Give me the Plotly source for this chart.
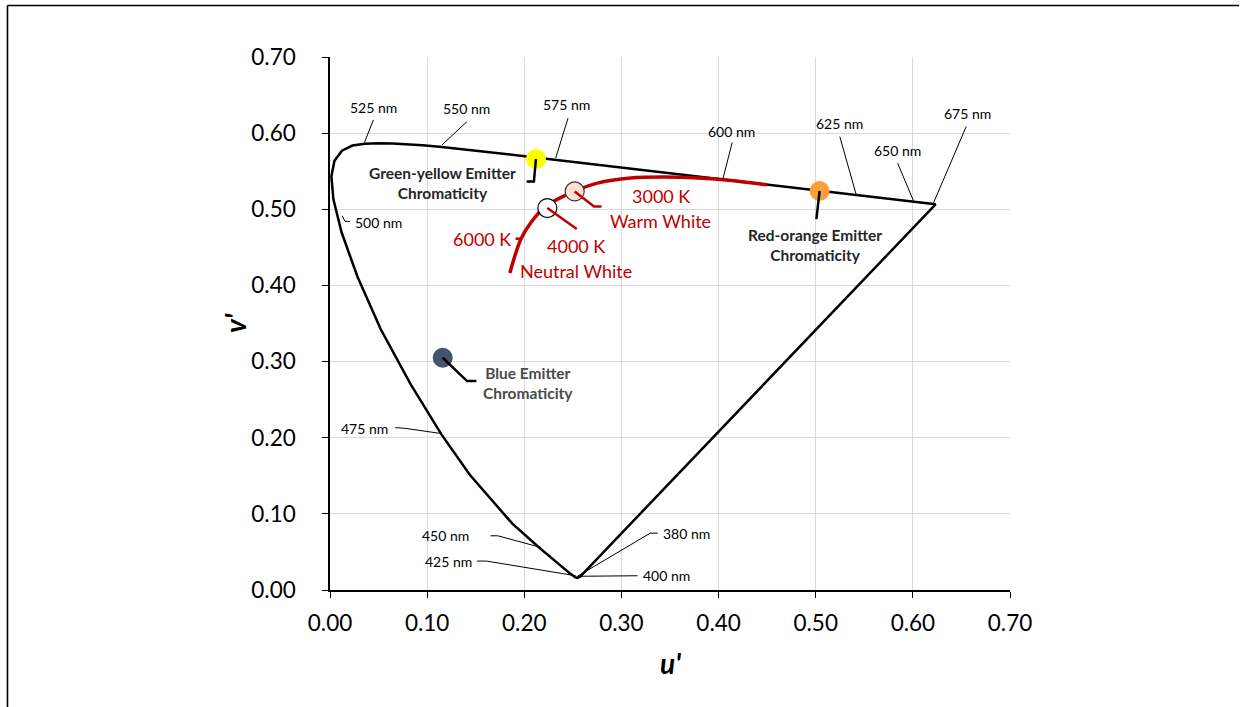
import plotly.graph_objects as go

# CIE 1976 u'v' spectral locus (380 nm -> 700 nm), closed back to 380 nm
locus_nm = [380, 390, 400, 410, 420, 430, 440, 450, 460, 470, 475, 480, 485, 490, 495,
            500, 505, 510, 515, 520, 525, 530, 535, 540, 545, 550, 555, 560, 565, 570,
            575, 580, 585, 590, 595, 600, 605, 610, 615, 620, 625, 630, 640, 650, 660,
            675, 700]
locus_u = [0.2568, 0.2564, 0.2557, 0.2545, 0.2522, 0.2461, 0.2347, 0.2161, 0.1877, 0.1441,
           0.1147, 0.0828, 0.0521, 0.0282, 0.0119, 0.0035, 0.0014, 0.0046, 0.0123, 0.0231,
           0.0360, 0.0501, 0.0643, 0.0792, 0.0953, 0.1127, 0.1319, 0.1531, 0.1766, 0.2026,
           0.2312, 0.2623, 0.2960, 0.3315, 0.3681, 0.4035, 0.4379, 0.4692, 0.4968, 0.5203,
           0.5399, 0.5565, 0.5830, 0.6005, 0.6109, 0.6180, 0.6234]
locus_v = [0.0166, 0.0163, 0.0159, 0.0159, 0.0169, 0.0226, 0.0350, 0.0549, 0.0871, 0.1510,
           0.2044, 0.2708, 0.3427, 0.4117, 0.4698, 0.5131, 0.5432, 0.5638, 0.5770, 0.5837,
           0.5861, 0.5868, 0.5865, 0.5856, 0.5841, 0.5821, 0.5796, 0.5766, 0.5732, 0.5694,
           0.5651, 0.5604, 0.5554, 0.5501, 0.5446, 0.5393, 0.5342, 0.5296, 0.5254, 0.5219,
           0.5190, 0.5165, 0.5125, 0.5099, 0.5084, 0.5073, 0.5065]

# Planckian (blackbody) locus segment, high CCT -> ~1000 K
planck_u = [0.1851, 0.1962, 0.2065, 0.2220, 0.2512, 0.2753, 0.3097, 0.3438, 0.3786, 0.4130, 0.4498]
planck_v = [0.4164, 0.4601, 0.4820, 0.5037, 0.5234, 0.5344, 0.5410, 0.5423, 0.5410, 0.5378, 0.5322]

# White points on the Planckian locus
white_names = ["4000 K", "3000 K"]
white_u = [0.2237, 0.2519]
white_v = [0.5016, 0.5234]

# Emitter chromaticities
emitter_names = ["Green-yellow", "Red-orange", "Blue"]
emitter_u = [0.212, 0.504, 0.116]
emitter_v = [0.566, 0.524, 0.305]

# Axis ticks
tick_vals = [0.0, 0.1, 0.2, 0.3, 0.4, 0.5, 0.6, 0.7]
tick_text = ["0.00", "0.10", "0.20", "0.30", "0.40", "0.50", "0.60", "0.70"]

FONT = "Lato"
RED = "#C00000"

fig = go.Figure()

# spectral locus + line of purples
fig.add_trace(go.Scatter(
    x=locus_u + [locus_u[0]], y=locus_v + [locus_v[0]],
    mode="lines", line=dict(color="black", width=2.5), hoverinfo="skip"))

# Planckian locus
fig.add_trace(go.Scatter(
    x=planck_u, y=planck_v, mode="lines",
    line=dict(color=RED, width=3.5, shape="spline", smoothing=0.8), hoverinfo="skip"))

# emitters
emitter_colors = ["#FFFF00", "#F9A03C", "#44546A"]
fig.add_trace(go.Scatter(
    x=emitter_u, y=emitter_v, mode="markers", text=emitter_names,
    marker=dict(size=20, color=emitter_colors, line=dict(width=0))))

# white points
fig.add_trace(go.Scatter(
    x=white_u, y=white_v, mode="markers", text=white_names,
    marker=dict(size=19, color=["#FFFFFF", "#FBE1D2"],
                line=dict(color=["#000000", "#3A3A3A"], width=1.2))))

# --- callout labels and leader lines ---
annotations = []
shapes = []


def leader(points, color="black", width=1.0):
    path = "M " + " L ".join(f"{u},{v}" for u, v in points)
    shapes.append(dict(type="path", xref="x", yref="y", path=path,
                       line=dict(color=color, width=width), layer="above"))


def label(text, u, v, size, color="black", bold=False, align="center"):
    annotations.append(dict(
        x=u, y=v, xref="x", yref="y", text=text, showarrow=False,
        xanchor="center", yanchor="middle", align=align,
        font=dict(family=FONT, size=size, color=color,
                  weight="bold" if bold else "normal")))


# wavelength callouts: (text, label u, label v, leader polyline)
wl_labels = [
    ("525 nm", 0.0444, 0.6331, [(0.0447, 0.6174), (0.0354, 0.5876)]),
    ("550 nm", 0.1404, 0.6318, [(0.1411, 0.6152), (0.1153, 0.5846)]),
    ("575 nm", 0.2437, 0.6371, [(0.2450, 0.6196), (0.2323, 0.5672)]),
    ("600 nm", 0.4130, 0.6017, [(0.4140, 0.5876), (0.4044, 0.5397)]),
    ("625 nm", 0.5245, 0.6121, [(0.5248, 0.5955), (0.5420, 0.5178)]),
    ("650 nm", 0.5843, 0.5767, [(0.5843, 0.5606), (0.6006, 0.5112)]),
    ("675 nm", 0.6566, 0.6252, [(0.6549, 0.6086), (0.6212, 0.5082)]),
    ("500 nm", 0.0504, 0.4827, [(0.0124, 0.4915), (0.0155, 0.4841), (0.0206, 0.4841)]),
    ("475 nm", 0.0351, 0.2123, [(0.0671, 0.2133), (0.0774, 0.2123), (0.1128, 0.2058)]),
    ("450 nm", 0.1192, 0.0712, [(0.1652, 0.0712), (0.1727, 0.0712), (0.2168, 0.0560)]),
    ("425 nm", 0.1223, 0.0371, [(0.1515, 0.0380), (0.1611, 0.0380), (0.2529, 0.0187)]),
    ("400 nm", 0.3464, 0.0187, [(0.3166, 0.0187), (0.2547, 0.0180)]),
    ("380 nm", 0.3670, 0.0743, [(0.3373, 0.0747), (0.3297, 0.0747), (0.2547, 0.0180)]),
]
for text, u, v, pts in wl_labels:
    label(text, u, v, 14)
    leader(pts, width=1.0)

# emitter callouts
label("Green-yellow Emitter<br>Chromaticity", 0.1156, 0.5339, 15.5, color="#262626", bold=True)
leader([(emitter_u[0], emitter_v[0]), (0.2099, 0.5365), (0.2024, 0.5365)], width=2.5)

label("Red-orange Emitter<br>Chromaticity", 0.4992, 0.4531, 15.5, color="#262626", bold=True)
leader([(emitter_u[1], emitter_v[1]), (0.5007, 0.4872)], width=2.5)

label("Blue Emitter<br>Chromaticity", 0.2034, 0.2723, 15.5, color="#4A4A4A", bold=True)
leader([(emitter_u[2], emitter_v[2]), (0.1411, 0.2744), (0.1507, 0.2744)], width=2.5)

# white point callouts
label("3000 K", 0.3412, 0.5178, 18, color=RED)
label("Warm White", 0.3407, 0.4850, 18, color=RED)
leader([(white_u[1], white_v[1]), (0.2718, 0.5037), (0.2795, 0.5037)], color=RED, width=2.5)

label("4000 K", 0.2535, 0.4522, 18, color=RED)
label("Neutral White", 0.2529, 0.4185, 18, color=RED)
leader([(white_u[0], white_v[0]), (0.2540, 0.4741)], color=RED, width=2.5)

label("6000 K", 0.1566, 0.4610, 18, color=RED)
leader([(0.1910, 0.4614), (0.1969, 0.4614)], color=RED, width=2.5)

# axis titles
title_font = dict(family=FONT, size=28, color="black", weight="bold", style="italic")
annotations.append(dict(x=-0.1397, y=0.501, xref="paper", yref="paper", text="v'",
                        textangle=-90, showarrow=False, xanchor="center", yanchor="middle",
                        font=title_font))
annotations.append(dict(x=0.5, y=-0.137, xref="paper", yref="paper", text="u'",
                        showarrow=False, xanchor="center", yanchor="middle",
                        font=title_font))

# outer frame of the figure (top and left edges)
frame = dict(color="black", width=1.6)
shapes.append(dict(type="line", xref="paper", yref="paper",
                   x0=-0.4743, x1=1.337, y0=1.0966, y1=1.0966, line=frame))
shapes.append(dict(type="line", xref="paper", yref="paper",
                   x0=-0.4743, x1=-0.4743, y0=-0.22, y1=1.0966, line=frame))

axis_common = dict(
    range=[0, 0.7], tickvals=tick_vals, ticktext=tick_text,
    showgrid=True, gridcolor="#D9D9D9", gridwidth=1,
    zeroline=False, showline=True, linecolor="black", linewidth=1.5,
    ticks="outside", ticklen=6, tickcolor="black", tickwidth=1,
    tickfont=dict(family=FONT, size=22.5, color="black"),
    fixedrange=True, automargin=False,
)

fig.update_layout(
    width=1240, height=707,
    margin=dict(l=330, r=230, t=57, b=117),
    paper_bgcolor="white", plot_bgcolor="white",
    showlegend=False,
    xaxis=dict(**axis_common, ticklabelstandoff=6),
    yaxis=dict(**axis_common, ticklabelstandoff=22),
    annotations=annotations,
    shapes=shapes,
    hovermode=False,
)

fig.write_html("out.html")
